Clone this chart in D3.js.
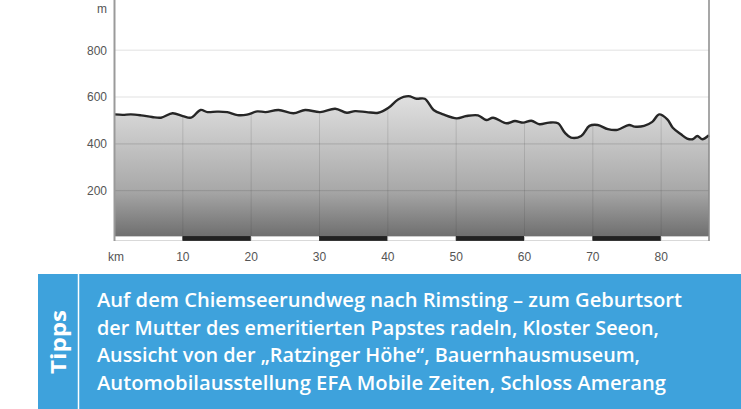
<!DOCTYPE html>
<html>
<head>
<meta charset="utf-8">
<script src="https://cdn.jsdelivr.net/npm/d3@7"></script>
<style>
  body { margin: 0; background: #fff; }
  svg { display: block; }
</style>
</head>
<body>
<svg id="chart" width="741" height="409"></svg>
<script>
// elevation profile (km, metres)
const distKm = [0, 1.2, 2.4, 3.9, 5.5, 6.8, 8.5, 10, 11.2, 12.6, 13.6, 15, 16.5, 18, 19.4, 20.9,
  22.1, 24, 26.2, 27.9, 30.1, 32.3, 34, 35.2, 36.9, 38.6, 40.1, 41.5, 43, 44.2, 45.4, 46.7,
  48.1, 50.1, 51.5, 53.2, 54.4, 55.4, 57.4, 58.6, 59.8, 61, 62.2, 63.6, 64.9, 65.9, 66.8,
  68.3, 69.5, 70.7, 72.2, 73.6, 75.3, 76.1, 77.5, 78.7, 79.7, 80.9, 81.7, 82.9, 83.8, 84.6,
  85.3, 86, 87];
const elevM = [526, 524, 526, 522, 515, 512, 531, 519, 512, 545, 536, 538, 536, 523, 525, 539,
  536, 545, 531, 545, 536, 550, 533, 540, 536, 533, 554, 590, 604, 593, 593, 545,
  526, 509, 519, 522, 502, 512, 488, 498, 491, 499, 484, 491, 488, 448, 427,
  434, 477, 481, 463, 460, 481, 474, 477, 494, 526, 505, 469, 441, 423, 420,
  434, 420, 437];

const yTicks = [200, 400, 600, 800];
const xTicks = [10, 20, 30, 40, 50, 60, 70, 80];
const tippsLines = [
  'Auf dem Chiemseerundweg nach Rimsting \u2013 zum Geburtsort',
  'der Mutter des emeritierten Papstes radeln, Kloster Seeon,',
  'Aussicht von der \u201eRatzinger H\u00f6he\u201c, Bauernhausmuseum,',
  'Automobilausstellung EFA Mobile Zeiten, Schloss Amerang'
];
const tippsWidths = [585, 562, 543, 569];

const profile = distKm.map((d, i) => ({ km: d, m: elevM[i] }));

const svg = d3.select('#chart');
const x = d3.scaleLinear().domain([0, 87]).range([114.5, 709]);
const y = d3.scaleLinear().domain([0, 1000]).range([237.5, 3.5]);

// gradient for the filled area
const defs = svg.append('defs');
const grad = defs.append('linearGradient')
  .attr('id', 'fillGrad')
  .attr('gradientUnits', 'userSpaceOnUse')
  .attr('x1', 0).attr('x2', 0).attr('y1', 100).attr('y2', 237);
grad.append('stop').attr('offset', 0).attr('stop-color', '#dedede');
grad.append('stop').attr('offset', 0.65).attr('stop-color', '#a9a9a9');
grad.append('stop').attr('offset', 1).attr('stop-color', '#6e6e6e');

// light gridlines in the white part
svg.append('g')
  .selectAll('line')
  .data(yTicks)
  .join('line')
  .attr('x1', x(0)).attr('x2', x(87))
  .attr('y1', d => y(d)).attr('y2', d => y(d))
  .attr('stroke', '#ebebeb')
  .attr('stroke-width', 1.5);

const area = d3.area()
  .x(d => x(d.km))
  .y0(y(0))
  .y1(d => y(d.m))
  .curve(d3.curveCatmullRom);

svg.append('path')
  .datum(profile)
  .attr('d', area)
  .attr('fill', 'url(#fillGrad)');

// darker grid inside the filled area
defs.append('clipPath').attr('id', 'areaClip')
  .append('path').datum(profile).attr('d', area);

const inner = svg.append('g').attr('clip-path', 'url(#areaClip)');
inner.selectAll('.vg')
  .data(xTicks)
  .join('line')
  .attr('x1', d => x(d)).attr('x2', d => x(d))
  .attr('y1', 0).attr('y2', y(0))
  .attr('stroke', 'rgba(60,60,60,0.16)')
  .attr('stroke-width', 1);
inner.selectAll('.hg')
  .data(yTicks)
  .join('line')
  .attr('x1', x(0)).attr('x2', x(87))
  .attr('y1', d => y(d)).attr('y2', d => y(d))
  .attr('stroke', 'rgba(60,60,60,0.2)')
  .attr('stroke-width', 1);

// profile line
const line = d3.line()
  .x(d => x(d.km))
  .y(d => y(d.m))
  .curve(d3.curveCatmullRom);

svg.append('path')
  .datum(profile)
  .attr('d', line)
  .attr('fill', 'none')
  .attr('stroke', '#262626')
  .attr('stroke-width', 2.4)
  .attr('stroke-linejoin', 'round');

// km strip at the bottom
const strip = d3.range(0, 9).map(i => ({ from: i * 10, to: Math.min(i * 10 + 10, 87), dark: i % 2 === 1 }));
svg.append('g')
  .selectAll('rect')
  .data(strip)
  .join('rect')
  .attr('x', d => x(d.from))
  .attr('width', d => x(d.to) - x(d.from))
  .attr('y', 236.5)
  .attr('height', 4)
  .attr('fill', d => d.dark ? '#222' : '#fff')
  .attr('stroke', d => d.dark ? '#222' : '#d0d0d0')
  .attr('stroke-width', 0.8);

// frame lines
svg.append('line')
  .attr('x1', x(0)).attr('x2', x(0)).attr('y1', 0).attr('y2', 241)
  .attr('stroke', '#9a9a9a').attr('stroke-width', 2);
svg.append('line')
  .attr('x1', x(87)).attr('x2', x(87)).attr('y1', 0).attr('y2', 241)
  .attr('stroke', '#8a8a8a').attr('stroke-width', 1.5);

// axis labels
const lab = svg.append('g')
  .attr('font-family', 'Liberation Sans, Arial, sans-serif')
  .attr('font-size', 12)
  .attr('fill', '#555');

lab.selectAll('.yl')
  .data(yTicks)
  .join('text')
  .attr('x', 107)
  .attr('y', d => y(d))
  .attr('dy', '0.35em')
  .attr('text-anchor', 'end')
  .text(d => d);

lab.append('text').attr('x', 107).attr('y', 13).attr('text-anchor', 'end').text('m');

lab.selectAll('.xl')
  .data(xTicks)
  .join('text')
  .attr('x', d => x(d))
  .attr('y', 261)
  .attr('text-anchor', 'middle')
  .text(d => d);

lab.append('text').attr('x', 116).attr('y', 261).attr('text-anchor', 'middle').text('km');

// Tipps box
const box = svg.append('g');
box.append('rect')
  .attr('x', 38).attr('y', 274)
  .attr('width', 741 - 38).attr('height', 409 - 274)
  .attr('fill', '#3ea2dc');
box.append('line')
  .attr('x1', 78.5).attr('x2', 78.5).attr('y1', 274).attr('y2', 409)
  .attr('stroke', '#fff').attr('stroke-width', 1.5);

box.append('text')
  .attr('transform', 'translate(66,342) rotate(-90)')
  .attr('text-anchor', 'middle')
  .attr('font-family', 'Open Sans, sans-serif')
  .attr('font-weight', 700)
  .attr('font-size', 22)
  .attr('fill', '#fff')
  .attr('textLength', 64)
  .attr('lengthAdjust', 'spacingAndGlyphs')
  .text('Tipps');

box.selectAll('.tl')
  .data(tippsLines)
  .join('text')
  .attr('x', 97)
  .attr('y', (d, i) => 306.7 + i * 27.8)
  .attr('font-family', 'Open Sans, sans-serif')
  .attr('font-weight', 600)
  .attr('font-size', 19.5)
  .attr('fill', '#fff')
  .attr('textLength', (d, i) => tippsWidths[i])
  .attr('lengthAdjust', 'spacingAndGlyphs')
  .text(d => d);
</script>
</body>
</html>
